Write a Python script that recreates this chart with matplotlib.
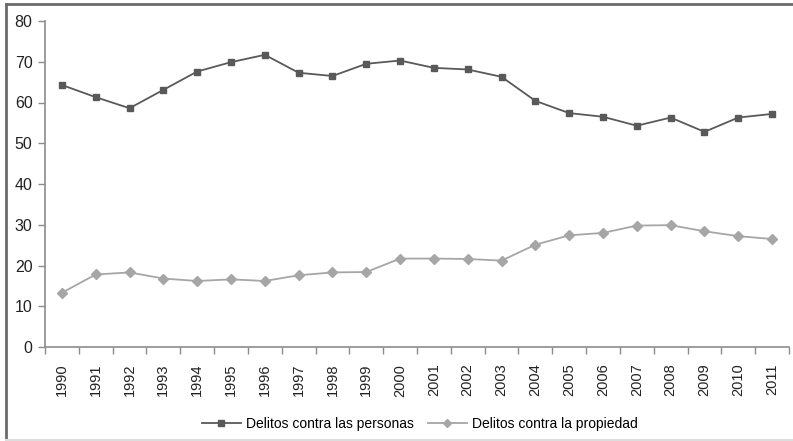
import numpy as np
import matplotlib.pyplot as plt
from matplotlib.lines import Line2D

plt.rcParams['font.family'] = ['Liberation Sans', 'DejaVu Sans']

years = [str(y) for y in range(1990, 2012)]
personas = [64.3, 61.3, 58.6, 63.1, 67.6, 69.9, 71.7, 67.3, 66.5, 69.5, 70.3,
            68.5, 68.1, 66.3, 60.4, 57.4, 56.5, 54.3, 56.3, 52.8, 56.3, 57.2]
propiedad = [13.3, 17.8, 18.3, 16.8, 16.2, 16.6, 16.2, 17.6, 18.3, 18.4, 21.7,
             21.7, 21.6, 21.2, 25.1, 27.4, 28.0, 29.8, 29.9, 28.4, 27.2, 26.5]
yticks = [0, 10, 20, 30, 40, 50, 60, 70, 80]

W, H = 793, 441
fig = plt.figure(figsize=(W / 100, H / 100), dpi=100)
ax = fig.add_axes([45 / W, 1 - 347 / H, (789 - 45) / W, (347 - 21) / H])

x = np.arange(len(years))
dark = '#595959'
light = '#a6a6a6'
ax.plot(x, personas, color=dark, lw=1.3, marker='s', ms=5, mfc=dark, mec=dark,
        label='Delitos contra las personas')
ax.plot(x, propiedad, color=light, lw=1.3, marker='D', ms=5, mfc=light, mec=light,
        label='Delitos contra la propiedad')

ax.set_xlim(-0.5, len(years) - 0.5)
ax.set_ylim(0, 80)
ax.set_yticks(yticks)
ax.set_yticklabels([str(v) for v in yticks], fontsize=11.5, color='#222222')
ax.set_xticks(x)
ax.set_xticklabels(years, rotation=90, fontsize=10.5, color='#222222')
ax.tick_params(axis='x', length=0, pad=12)
ax.set_xticks(np.arange(-0.5, len(years)), minor=True)
ax.tick_params(axis='x', which='minor', length=5, color='#8c8c8c', width=1)
ax.tick_params(axis='y', length=5, color='#8c8c8c', width=1, pad=4)

for s in ['top', 'right']:
    ax.spines[s].set_visible(False)
for s in ['left', 'bottom']:
    ax.spines[s].set_color('#8c8c8c')
    ax.spines[s].set_linewidth(1.2)

fig.legend(*ax.get_legend_handles_labels(), loc='center',
           bbox_to_anchor=(420 / W, 1 - 424 / H), ncol=2, frameon=False,
           prop={'size': 10, 'family': ['Liberation Sans Narrow', 'Liberation Sans']},
           handlelength=2.8, columnspacing=1.0, handletextpad=0.4, markerscale=0.8)

# frame around figure
fig.add_artist(Line2D([5.5 / W, 5.5 / W], [0, 1 - 3.5 / H], transform=fig.transFigure,
                      color='#6b6b6b', lw=2))
fig.add_artist(Line2D([5.5 / W, 1], [1 - 3.5 / H, 1 - 3.5 / H], transform=fig.transFigure,
                      color='#6b6b6b', lw=2))
fig.add_artist(Line2D([5.5 / W, 1], [1.5 / H, 1.5 / H], transform=fig.transFigure,
                      color='#dddddd', lw=1.5))

fig.savefig('out.png', dpi=100)
